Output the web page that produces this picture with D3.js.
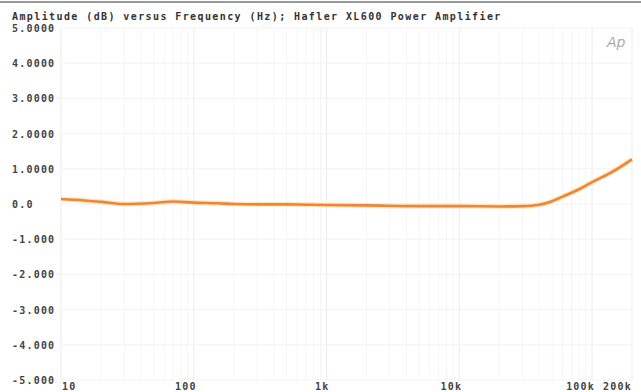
<!DOCTYPE html>
<html><head><meta charset="utf-8">
<script src="https://cdn.jsdelivr.net/npm/d3@7"></script>
<style>body{margin:0;background:#fff;}svg{display:block;}</style>
</head><body>
<svg id="c" width="641" height="392"></svg>
<script>
const title = "Amplitude (dB) versus Frequency (Hz); Hafler XL600 Power Amplifier";
const freqs = [10,15,20,30,50,70,100,150,200,300,500,700,1000,2000,5000,10000,20000,30000,40000,50000,60000,80000,100000,143000,200000];
const dB    = [0.14,0.10,0.06,0.00,0.03,0.07,0.04,0.02,0.00,-0.01,-0.01,-0.02,-0.03,-0.04,-0.06,-0.06,-0.07,-0.06,-0.02,0.08,0.21,0.42,0.62,0.92,1.27];
const yTicks = [5,4,3,2,1,0,-1,-2,-3,-4,-5];
const yTickLabels = ["5.0000","4.0000","3.0000","2.0000","1.0000","0.0","-1.000","-2.000","-3.000","-4.000","-5.000"];
const xTicks = [10,100,1000,10000,100000,200000];
const xTickLabels = ["10","100","1k","10k","100k","200k"];

const svg = d3.select("#c");
const L = 61, R = 632, T = 28, B = 380;
const x = d3.scaleLog().domain([10,200000]).range([L,R]);
const y = d3.scaleLinear().domain([-5,5]).range([B,T]);
const font = "'DejaVu Sans Mono', monospace";

// top border of page
svg.append("line").attr("x1",0).attr("x2",641).attr("y1",2).attr("y2",2)
  .attr("stroke","#9a9a9a").attr("stroke-width",2);

// faint grid
const minor = [];
for (let d=10; d<200000; d*=10) for (let k=1;k<10;k++){ const f=d*k; if(f<=200000) minor.push(f); }
svg.append("g").selectAll("line").data(minor).join("line")
  .attr("x1",d=>x(d)).attr("x2",d=>x(d)).attr("y1",T).attr("y2",B)
  .attr("stroke",d=>xTicks.includes(d)?"#ebebeb":"#f5f5f5").attr("stroke-width",1);
svg.append("g").selectAll("line").data(yTicks).join("line")
  .attr("x1",L).attr("x2",R).attr("y1",d=>y(d)).attr("y2",d=>y(d))
  .attr("stroke","#f3f3f3").attr("stroke-width",1);

// title
svg.append("text").attr("x",12).attr("y",20).text(title)
  .attr("font-family",font).attr("font-size",10).attr("font-weight","bold")
  .attr("letter-spacing",1.4).attr("fill","#333");

// y labels
svg.append("g").selectAll("text").data(yTicks).join("text")
  .attr("x",12).attr("y",d=>y(d)+4).text((d,i)=>yTickLabels[i])
  .attr("font-family",font).attr("font-size",10).attr("font-weight","bold")
  .attr("letter-spacing",1.2).attr("fill","#444");

// x labels
svg.append("g").selectAll("text").data(xTicks).join("text")
  .attr("x",(d,i)=> i===0 ? L+1 : (i===xTicks.length-1 ? R : x(d)+3))
  .attr("y",390)
  .attr("text-anchor",(d,i)=> i===0 ? "start" : "end")
  .text((d,i)=>xTickLabels[i])
  .attr("font-family",font).attr("font-size",10).attr("font-weight","bold")
  .attr("letter-spacing",1.2).attr("fill","#444");

// Ap logo
svg.append("text").attr("x",607).attr("y",47).text("Ap")
  .attr("font-family","'DejaVu Sans', sans-serif").attr("font-style","italic")
  .attr("font-size",14).attr("fill","#aaa");

// curve
const line = d3.line().x(d=>x(d[0])).y(d=>y(d[1])).curve(d3.curveMonotoneX);
const pts = freqs.map((f,i)=>[f,dB[i]]);
svg.append("path").datum(pts).attr("d",line).attr("fill","none")
  .attr("stroke","#fbd9a0").attr("stroke-width",5).attr("opacity",0.6);
svg.append("path").datum(pts).attr("d",line).attr("fill","none")
  .attr("stroke","#f08535").attr("stroke-width",2.6);
</script>
</body></html>
